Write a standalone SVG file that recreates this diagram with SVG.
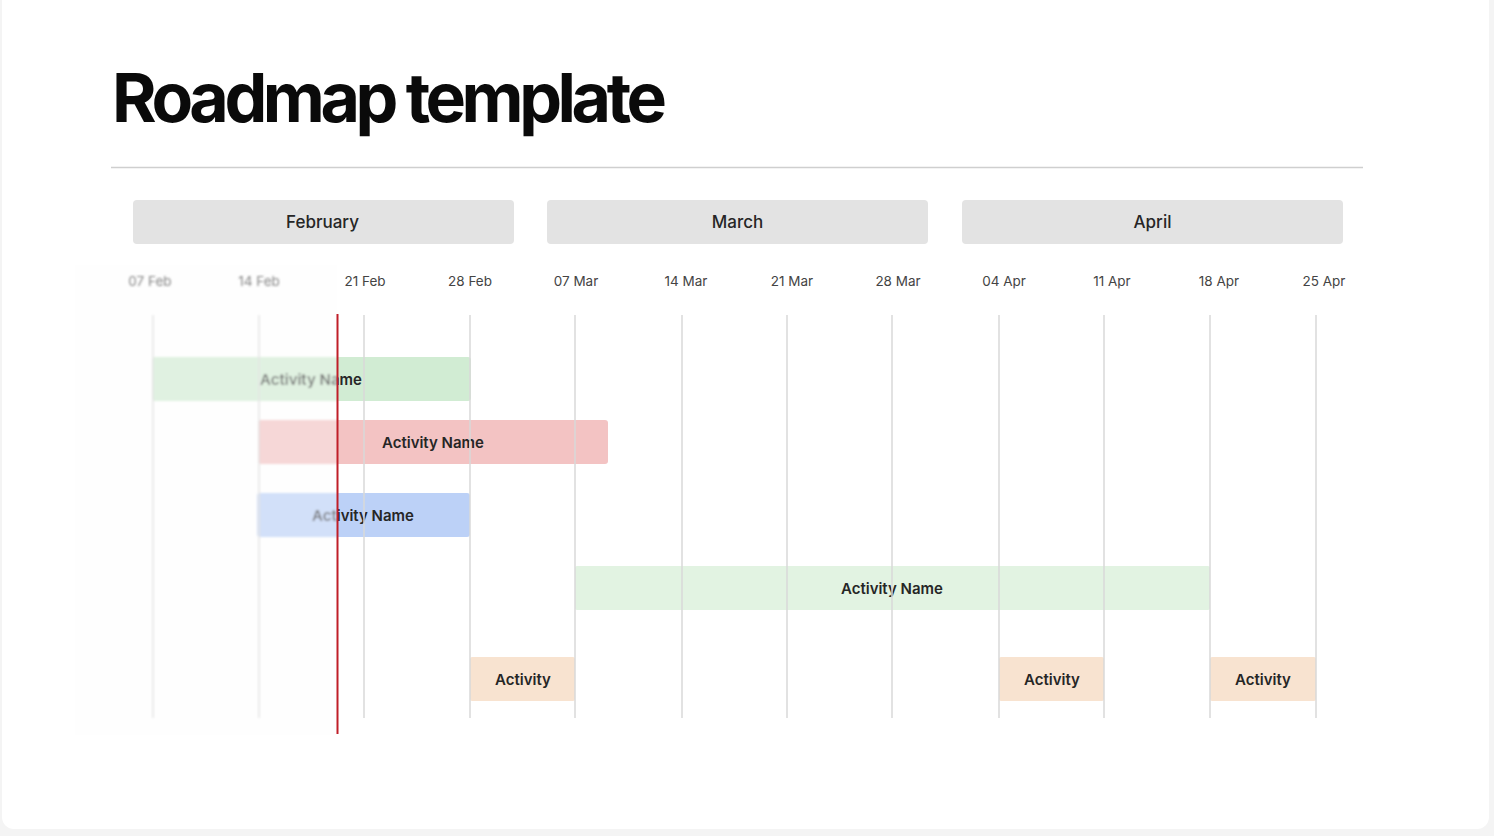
<svg xmlns="http://www.w3.org/2000/svg" xmlns:xlink="http://www.w3.org/1999/xlink" width="1494" height="836" viewBox="0 0 1494 836">
<style>
.month{fill:#e3e3e3}
.mtxt{font-family:Inter,"Liberation Sans",sans-serif;font-size:17px;font-weight:500;fill:#262626;text-anchor:middle}
.date{font-family:Inter,"Liberation Sans",sans-serif;font-size:13.5px;font-weight:400;fill:#444;text-anchor:middle}
.grid{stroke:#d9d9d9;stroke-width:1.5}
.btxt{font-family:Inter,"Liberation Sans",sans-serif;font-size:15px;font-weight:600;fill:#262626;text-anchor:middle}
</style>
<defs>
<clipPath id="rightClip"><rect x="337" y="0" width="1157" height="836"/><rect x="0" y="0" width="1494" height="265"/><rect x="0" y="735" width="1494" height="101"/></clipPath>
<clipPath id="leftClip"><rect x="75" y="265" width="262" height="470"/></clipPath>
<filter id="blur" x="-5%" y="-5%" width="110%" height="110%"><feGaussianBlur stdDeviation="1.3"/></filter>
</defs>
<rect x="0" y="0" width="1494" height="836" fill="#f4f4f4"/>
<rect x="2" y="-20" width="1487" height="849" rx="12" fill="#ffffff"/>
<g id="title">
<text x="112" y="122" font-family="Inter,'Liberation Sans',sans-serif" font-size="68" font-weight="700" fill="#0a0a0a" letter-spacing="-2" textLength="553" lengthAdjust="spacing">Roadmap template</text>
</g>
<line x1="111" y1="167.5" x2="1363" y2="167.5" stroke="#cfcfcf" stroke-width="1.5"/>
<g id="month-feb"><rect class="month" x="133" y="200" width="381" height="44" rx="4"/><text class="mtxt" x="322.5" y="228">February</text></g>
<g id="month-mar"><rect class="month" x="547" y="200" width="381" height="44" rx="4"/><text class="mtxt" x="737.5" y="228">March</text></g>
<g id="month-apr"><rect class="month" x="962" y="200" width="381" height="44" rx="4"/><text class="mtxt" x="1152.5" y="228">April</text></g>
<g clip-path="url(#rightClip)">
<g id="chart">
<g id="dates">
<text class="date" x="150" y="286">07 Feb</text>
<text class="date" x="259" y="286">14 Feb</text>
<text class="date" x="365" y="286">21 Feb</text>
<text class="date" x="470" y="286">28 Feb</text>
<text class="date" x="576" y="286">07 Mar</text>
<text class="date" x="686" y="286">14 Mar</text>
<text class="date" x="792" y="286">21 Mar</text>
<text class="date" x="898" y="286">28 Mar</text>
<text class="date" x="1004" y="286">04 Apr</text>
<text class="date" x="1112" y="286">11 Apr</text>
<text class="date" x="1219" y="286">18 Apr</text>
<text class="date" x="1324" y="286">25 Apr</text>
</g>
<g id="bar1"><rect x="152" y="357" width="319" height="44" rx="3" fill="#d1ecd3"/><text class="btxt" x="311" y="384.5">Activity Name</text></g>
<g id="bar2"><rect x="258" y="420" width="350" height="44" rx="3" fill="#f3c3c3"/><text class="btxt" x="433" y="447.5">Activity Name</text></g>
<g id="bar3"><rect x="257" y="493" width="213" height="44" rx="3" fill="#bcd1f7"/><text class="btxt" x="363" y="520.5">Activity Name</text></g>
<g id="bar4"><rect x="575" y="566" width="635" height="44" rx="2" fill="#e2f3e2"/><text class="btxt" x="892" y="593.5">Activity Name</text></g>
<g id="bar5"><rect x="470" y="657" width="105" height="44" rx="2" fill="#f8e3d0"/><text class="btxt" x="523" y="684.5">Activity</text></g>
<g id="bar6"><rect x="999" y="657" width="105" height="44" rx="2" fill="#f8e3d0"/><text class="btxt" x="1052" y="684.5">Activity</text></g>
<g id="bar7"><rect x="1210" y="657" width="106" height="44" rx="2" fill="#f8e3d0"/><text class="btxt" x="1263" y="684.5">Activity</text></g>
<g id="gridlines">
<line class="grid" x1="153" y1="315" x2="153" y2="718"/>
<line class="grid" x1="259" y1="315" x2="259" y2="718"/>
<line class="grid" x1="364" y1="315" x2="364" y2="718"/>
<line class="grid" x1="470" y1="315" x2="470" y2="718"/>
<line class="grid" x1="575" y1="315" x2="575" y2="718"/>
<line class="grid" x1="682" y1="315" x2="682" y2="718"/>
<line class="grid" x1="787" y1="315" x2="787" y2="718"/>
<line class="grid" x1="892" y1="315" x2="892" y2="718"/>
<line class="grid" x1="999" y1="315" x2="999" y2="718"/>
<line class="grid" x1="1104" y1="315" x2="1104" y2="718"/>
<line class="grid" x1="1210" y1="315" x2="1210" y2="718"/>
<line class="grid" x1="1316" y1="315" x2="1316" y2="718"/>
</g>
</g>
</g>
<use xlink:href="#chart" href="#chart" clip-path="url(#leftClip)" filter="url(#blur)"/>
<rect x="75" y="265" width="262" height="470" fill="#fbfbfb" opacity="0.35"/>
<line id="today" x1="337.5" y1="314" x2="337.5" y2="734" stroke="#c01e28" stroke-width="2"/>
</svg>
